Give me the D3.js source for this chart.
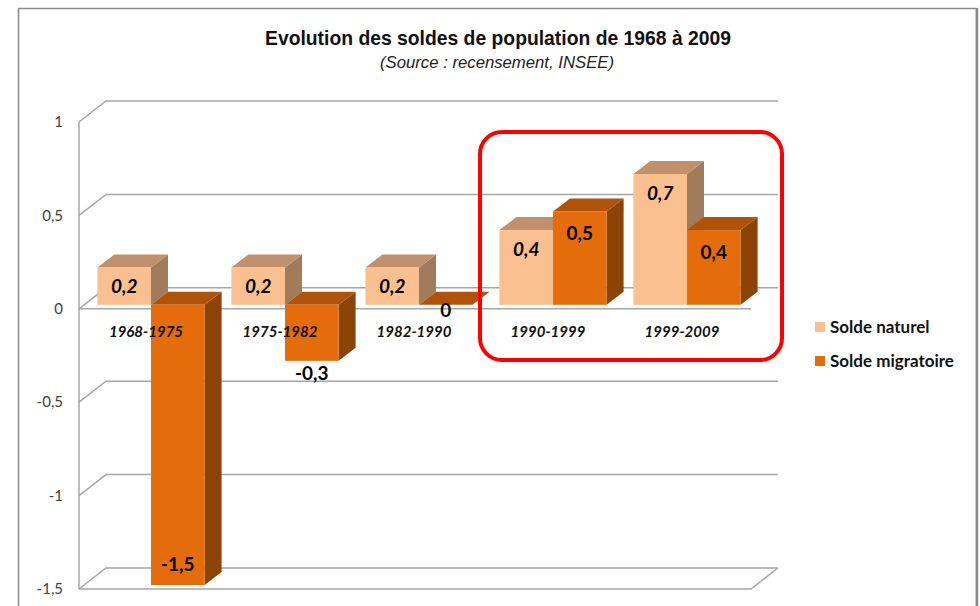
<!DOCTYPE html>
<html>
<head>
<meta charset="utf-8">
<script src="https://cdn.jsdelivr.net/npm/d3@7/dist/d3.min.js"></script>
<style>
  html, body { margin: 0; padding: 0; background: #fff; }
  svg { display: block; }
</style>
</head>
<body>
<svg id="chart" width="980" height="606"></svg>
<script>
// ---- data ----
const categories = ["1968-1975", "1975-1982", "1982-1990", "1990-1999", "1999-2009"];
const seriesNames = ["Solde naturel", "Solde migratoire"];
const soldeNaturel = [0.2, 0.2, 0.2, 0.4, 0.7];
const soldeMigratoire = [-1.5, -0.3, 0, 0.5, 0.4];
const yTicks = [1, 0.5, 0, -0.5, -1, -1.5];
const yTickLabels = ["1", "0,5", "0", "-0,5", "-1", "-1,5"];
const fmt = v => String(v).replace(".", ",");

const svg = d3.select("#chart");
const FONT = "Lato, 'Open Sans', sans-serif";

// colours: [front, top, side]
const colors = {
  "Solde naturel": ["#FAC090", "#C0916C", "#A07C5C"],
  "Solde migratoire": ["#E46C0A", "#B05308", "#8C4306"]
};

// frame
svg.append("rect").attr("x", 18.5).attr("y", 8.5).attr("width", 958).attr("height", 620)
  .attr("fill", "#fff").attr("stroke", "#8c8c8c").attr("stroke-width", 1.5);
svg.append("line").attr("x1", 977).attr("x2", 977).attr("y1", 8).attr("y2", 606)
  .attr("stroke", "#8c8c8c").attr("stroke-width", 2.5);

// title
svg.append("text").attr("x", 498).attr("y", 45).attr("text-anchor", "middle")
  .attr("font-family", "'Liberation Sans Narrow', 'Liberation Sans', Arial, sans-serif")
  .attr("font-weight", "bold").attr("font-size", 21).attr("fill", "#111")
  .attr("textLength", 466).attr("lengthAdjust", "spacingAndGlyphs")
  .text("Evolution des soldes de population de 1968 à 2009");
svg.append("text").attr("x", 497).attr("y", 68).attr("text-anchor", "middle")
  .attr("font-family", "'Liberation Sans Narrow', 'Liberation Sans', Arial, sans-serif")
  .attr("font-style", "italic").attr("font-size", 16).attr("fill", "#222")
  .attr("textLength", 234).attr("lengthAdjust", "spacingAndGlyphs")
  .text("(Source : recensement, INSEE)");

// scales
const x0 = 79, x1 = 749;
const x = d3.scaleBand().domain(categories).range([x0, x1]).paddingInner(0.2).paddingOuter(0.1);
const xs = d3.scaleBand().domain(seriesNames).range([0, x.bandwidth()]);
const y = d3.scaleLinear().domain([-1.5, 1]).range([589, 122]);

const wall = { dx: 27, dy: -21 };
const barOff = { dx: 5, dy: -4 };
const barDepth = { dx: 17, dy: -13 };

// gridlines (back wall + side wall)
const grid = svg.append("g").attr("stroke", "#a6a6a6").attr("stroke-width", 1.5).attr("fill", "none");
yTicks.forEach(t => {
  const yy = y(t);
  grid.append("path").attr("d",
    `M${x0},${yy} L${x0 + wall.dx},${yy + wall.dy} L${x1 + 2 + wall.dx},${yy + wall.dy}`);
});
// left axis line
grid.append("line").attr("x1", x0).attr("x2", x0).attr("y1", y(1)).attr("y2", y(-1.5));
// floor front edge
grid.append("path").attr("d",
  `M${x0},${y(-1.5)} L${x1 + 2},${y(-1.5)} L${x1 + 2 + wall.dx},${y(-1.5) + wall.dy}`);
// zero line front
grid.append("line").attr("x1", x0).attr("x2", x1 + 2).attr("y1", y(0)).attr("y2", y(0));

// y tick labels
svg.append("g").selectAll("text").data(yTicks).join("text")
  .attr("x", 63).attr("y", d => y(d)).attr("dy", "0.35em").attr("text-anchor", "end")
  .attr("font-family", FONT).attr("font-size", 15).attr("fill", "#404040")
  .text((d, i) => yTickLabels[i]);

// bars
const bars = [];
categories.forEach((c, i) => {
  bars.push({ cat: c, s: seriesNames[0], v: soldeNaturel[i] });
  bars.push({ cat: c, s: seriesNames[1], v: soldeMigratoire[i] });
});

const gBars = svg.append("g");
bars.forEach(b => {
  const xl = x(b.cat) + xs(b.s) + barOff.dx;
  const xr = xl + xs.bandwidth();
  const yt = Math.min(y(b.v), y(0)) + barOff.dy;
  const yb = Math.max(y(b.v), y(0)) + barOff.dy;
  const [cf, ct, cs] = colors[b.s];
  const g = gBars.append("g");
  // side
  g.append("path").attr("fill", cs).attr("d",
    `M${xr},${yt} L${xr + barDepth.dx},${yt + barDepth.dy} L${xr + barDepth.dx},${yb + barDepth.dy} L${xr},${yb}Z`);
  // top
  g.append("path").attr("fill", ct).attr("d",
    `M${xl},${yt} L${xl + barDepth.dx},${yt + barDepth.dy} L${xr + barDepth.dx},${yt + barDepth.dy} L${xr},${yt}Z`);
  // front
  if (yb - yt > 0.5) {
    g.append("rect").attr("x", xl).attr("y", yt).attr("width", xr - xl).attr("height", yb - yt).attr("fill", cf);
  }
  b.xc = (xl + xr) / 2; b.yt = yt; b.yb = yb;
});

// category labels
svg.append("g").selectAll("text").data(categories).join("text")
  .attr("x", d => x(d) + x.bandwidth() / 2).attr("y", 332).attr("dy", "0.35em")
  .attr("text-anchor", "middle")
  .attr("font-family", FONT).attr("font-weight", "bold").attr("font-style", "italic")
  .attr("font-size", 15).attr("fill", "#111")
  .text(d => d);

// value labels
const gLab = svg.append("g");
bars.forEach(b => {
  let yc;
  const nat = b.s === seriesNames[0];
  if (nat) {
    yc = b.yt + 19;
  } else if (Math.abs(b.v) >= 0.4) {
    yc = b.v > 0 ? b.yt + 22 : b.yb - 21;
  } else {
    yc = b.yb + (b.v === 0 ? 6 : 13);
  }
  gLab.append("text").attr("x", b.xc).attr("y", yc).attr("dy", "0.35em")
    .attr("text-anchor", "middle").attr("font-family", FONT).attr("font-weight", "bold")
    .attr("font-style", nat ? "italic" : "normal").attr("font-size", 19).attr("fill", "#000")
    .text(fmt(b.v));
});

// red highlight box
svg.append("rect").attr("x", 480).attr("y", 132).attr("width", 302).attr("height", 228)
  .attr("rx", 22).attr("ry", 22).attr("fill", "none").attr("stroke", "#FF0000").attr("stroke-width", 4);

// legend
const leg = svg.append("g");
seriesNames.forEach((s, i) => {
  const yy = 327 + i * 34;
  leg.append("rect").attr("x", 815).attr("y", yy - 5).attr("width", 10).attr("height", 10).attr("fill", colors[s][0]);
  leg.append("text").attr("x", 830).attr("y", yy).attr("dy", "0.35em")
    .attr("font-family", FONT).attr("font-weight", "bold").attr("font-size", 17).attr("fill", "#111")
    .text(s);
});
</script>
</body>
</html>
